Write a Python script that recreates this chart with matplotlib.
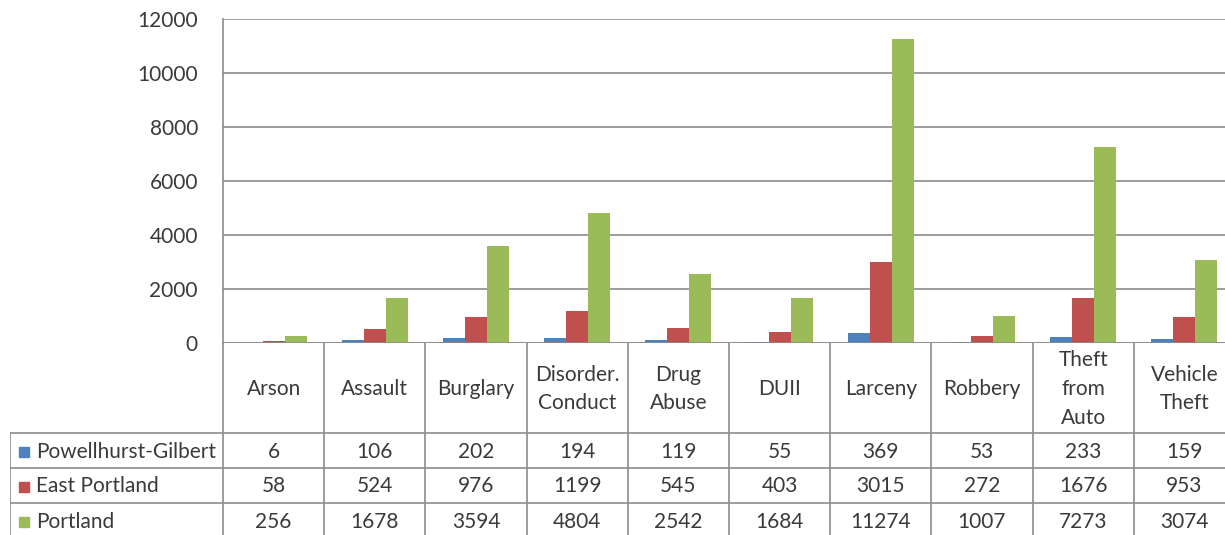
import matplotlib.pyplot as plt
import numpy as np

plt.rcParams['font.family'] = ['Lato', 'DejaVu Sans']

categories = ["Arson", "Assault", "Burglary", "Disorder.\nConduct", "Drug\nAbuse",
              "DUII", "Larceny", "Robbery", "Theft\nfrom\nAuto", "Vehicle\nTheft"]
series_names = ["Powellhurst-Gilbert", "East Portland", "Portland"]
powellhurst = [6, 106, 202, 194, 119, 55, 369, 53, 233, 159]
east_portland = [58, 524, 976, 1199, 545, 403, 3015, 272, 1676, 953]
portland = [256, 1678, 3594, 4804, 2542, 1684, 11274, 1007, 7273, 3074]
yticks = [0, 2000, 4000, 6000, 8000, 10000, 12000]

series = [powellhurst, east_portland, portland]
colors = ["#4F81BD", "#C0504D", "#9BBB59"]
txt = "#3a3a3a"
grid_c = "#8c8c8c"

W, H = 1225, 535
fig = plt.figure(figsize=(W / 100, H / 100), dpi=100)

# pixel layout (from the reference)
x_left, x_right = 223, 1235     # plot area / category columns
y_top, y_zero = 19, 343
ncat = len(categories)

ax = fig.add_axes([x_left / W, 1 - y_zero / H, (x_right - x_left) / W, (y_zero - y_top) / H])
ax.set_xlim(0, ncat)
ax.set_ylim(0, 12000)

bw = 0.218
x = np.arange(ncat) + 0.5
for j, (vals, c) in enumerate(zip(series, colors)):
    ax.bar(x + (j - 1) * bw, vals, width=bw, color=c, edgecolor="none", zorder=3)

ax.set_yticks(yticks)
ax.set_yticklabels([str(t) for t in yticks], fontsize=15, color=txt)
ax.tick_params(axis="y", length=0, pad=18)
ax.set_xticks([])
ax.grid(axis="y", color=grid_c, lw=1.2, zorder=0)
for s in ["top", "right", "bottom"]:
    ax.spines[s].set_visible(False)
ax.spines["left"].set_color(grid_c)
ax.spines["left"].set_linewidth(1.2)
ax.axhline(0, color=grid_c, lw=1.2, zorder=4)

# data table below the chart, in column units horizontally and pixels vertically
t_left = 10
col_px = (x_right - x_left) / ncat
tab = fig.add_axes([t_left / W, 0, (x_right - t_left) / W, 1 - y_zero / H])
x0 = -(x_left - t_left) / col_px
tab.set_xlim(x0, ncat)
tab.set_ylim(H, y_zero)
tab.axis("off")

row_lines = [433, 468, 503, 538]
lc = dict(color=grid_c, lw=1.2)
for k in range(ncat + 1):
    tab.plot([k, k], [y_zero, H], **lc)
tab.plot([x0, x0], [row_lines[0], H], **lc)
for r in row_lines[:3]:
    tab.plot([x0, ncat], [r, r], **lc)

for i, cat in enumerate(categories):
    tab.text(i + 0.5, (y_zero + row_lines[0]) / 2 + 1, cat, ha="center", va="center",
             fontsize=15, color=txt, linespacing=1.55)

for j, (name, vals, c) in enumerate(zip(series_names, series, colors)):
    yc = (row_lines[j] + row_lines[j + 1]) / 2 + 1
    tab.scatter([x0 + 14 / col_px], [yc], marker="s", s=62, color=c, clip_on=False)
    tab.text(x0 + 26 / col_px, yc, name, ha="left", va="center", fontsize=15, color=txt)
    for i, v in enumerate(vals):
        tab.text(i + 0.5, yc, str(v), ha="center", va="center", fontsize=15, color=txt)

fig.savefig("out.png", dpi=100)
